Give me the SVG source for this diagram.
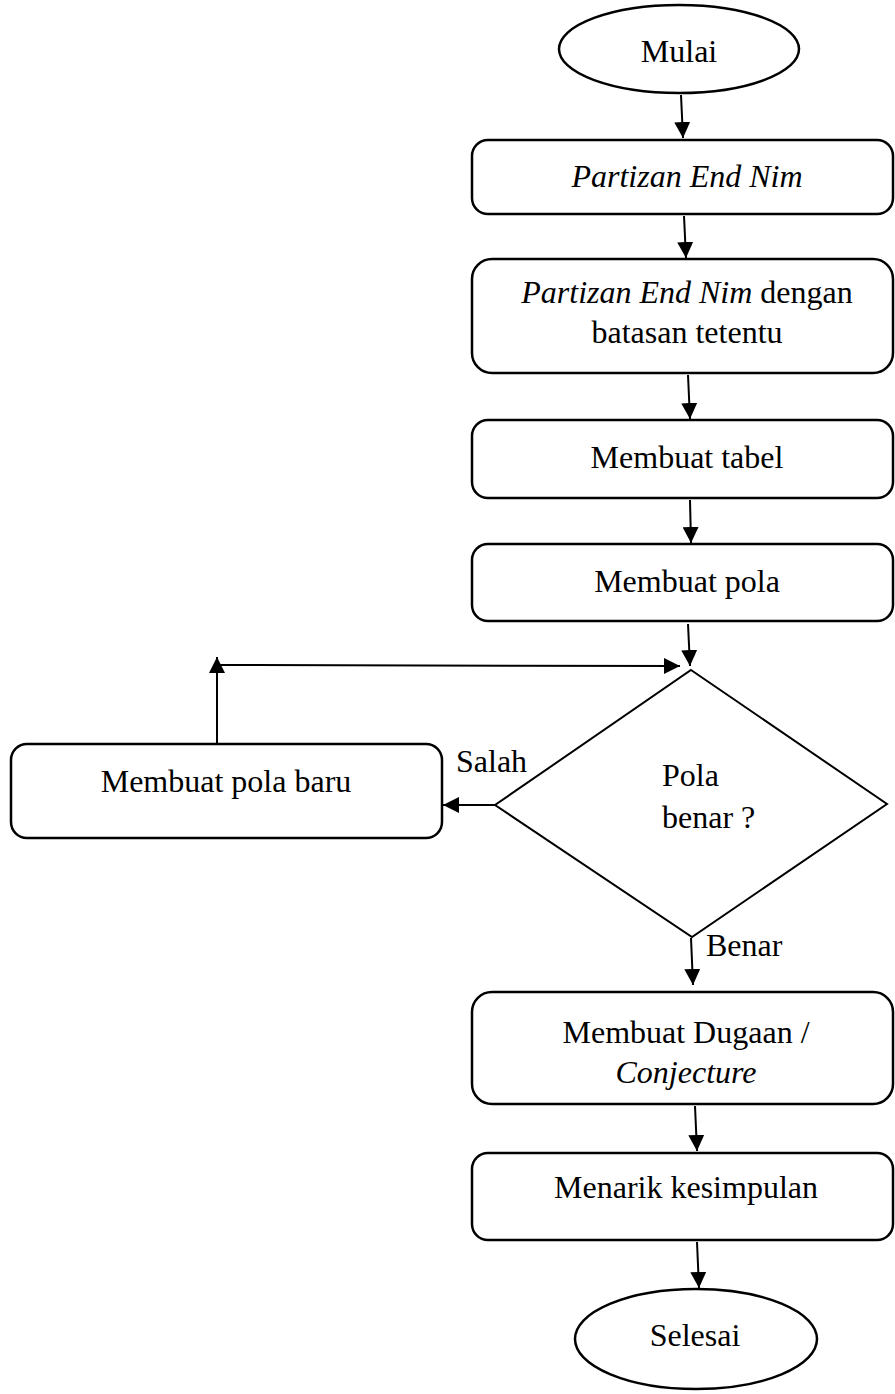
<svg xmlns="http://www.w3.org/2000/svg" width="895" height="1394" viewBox="0 0 895 1394">
  <defs>
    <marker id="arrow" viewBox="0 0 16 16" refX="16" refY="8" markerWidth="16" markerHeight="16" markerUnits="userSpaceOnUse" orient="auto">
      <path d="M0,0 L16,8 L0,16 z" fill="#000"/>
    </marker>
  </defs>
  <style>
    .shape { fill: #fff; stroke: #000; stroke-width: 2.5; }
    .diamond { fill: #fff; stroke: #000; stroke-width: 2; }
    .conn { fill: none; stroke: #000; stroke-width: 2; }
    .arr { marker-end: url(#arrow); }
    text { font-family: "Liberation Serif", "Times New Roman", serif; font-size: 32px; fill: #000; }
    .c { text-anchor: middle; }
    .i { font-style: italic; }
  </style>
  <rect width="895" height="1394" fill="#fff"/>

  <g id="connectors">
    <line class="conn arr" x1="681" y1="95" x2="683" y2="138"/>
    <line class="conn arr" x1="684" y1="216" x2="686" y2="258"/>
    <line class="conn arr" x1="688" y1="375" x2="690" y2="419"/>
    <line class="conn arr" x1="690" y1="500" x2="691" y2="543"/>
    <line class="conn arr" x1="688" y1="624" x2="690" y2="666"/>
    <line class="conn arr" x1="495" y1="805" x2="443" y2="805"/>
    <line class="conn arr" x1="217" y1="744" x2="217" y2="657"/>
    <line class="conn arr" x1="217" y1="665" x2="680" y2="666"/>
    <line class="conn arr" x1="691" y1="938" x2="693" y2="985"/>
    <line class="conn arr" x1="695" y1="1106" x2="697" y2="1151"/>
    <line class="conn arr" x1="697" y1="1242" x2="699" y2="1288"/>
  </g>

  <g id="start">
    <ellipse class="shape" cx="679" cy="49" rx="120" ry="44"/>
    <text class="c" x="679" y="62">Mulai</text>
  </g>

  <g id="partizan">
    <rect class="shape" x="472" y="140" width="421" height="74" rx="16"/>
    <text class="c i" x="687" y="187">Partizan End Nim</text>
  </g>

  <g id="partizan-batasan">
    <rect class="shape" x="472" y="259" width="421" height="114" rx="20"/>
    <text class="c" x="687" y="303"><tspan class="i">Partizan End Nim</tspan> dengan</text>
    <text class="c" x="687" y="343">batasan tetentu</text>
  </g>

  <g id="tabel">
    <rect class="shape" x="472" y="420" width="421" height="78" rx="16"/>
    <text class="c" x="687" y="468">Membuat tabel</text>
  </g>

  <g id="pola">
    <rect class="shape" x="472" y="544" width="421" height="77" rx="16"/>
    <text class="c" x="687" y="592">Membuat pola</text>
  </g>

  <g id="decision">
    <polygon class="diamond" points="691,670 887,804 692,937 495,805"/>
    <text x="662" y="786">Pola</text>
    <text x="662" y="828">benar ?</text>
  </g>

  <g id="pola-baru">
    <rect class="shape" x="11" y="744" width="431" height="94" rx="16"/>
    <text class="c" x="226" y="792">Membuat pola baru</text>
  </g>

  <g id="labels">
    <text x="456" y="772">Salah</text>
    <text x="706" y="956">Benar</text>
  </g>

  <g id="dugaan">
    <rect class="shape" x="472" y="992" width="421" height="112" rx="20"/>
    <text class="c" x="686" y="1043">Membuat Dugaan /</text>
    <text class="c i" x="686" y="1083">Conjecture</text>
  </g>

  <g id="kesimpulan">
    <rect class="shape" x="472" y="1153" width="421" height="87" rx="16"/>
    <text class="c" x="686" y="1198">Menarik kesimpulan</text>
  </g>

  <g id="end">
    <ellipse class="shape" cx="696" cy="1339" rx="121" ry="50"/>
    <text class="c" x="695" y="1346">Selesai</text>
  </g>
</svg>
